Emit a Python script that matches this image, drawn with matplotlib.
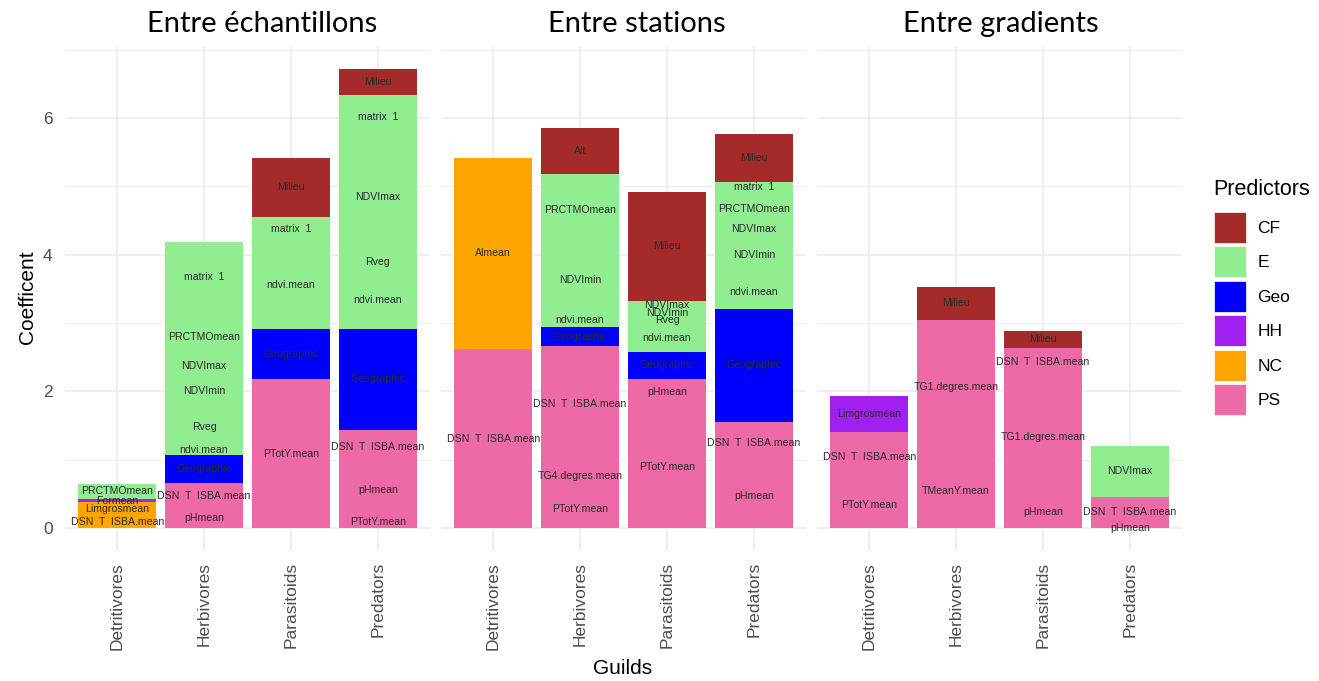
import matplotlib
matplotlib.use("Agg")
import matplotlib.pyplot as plt
import pandas as pd
from matplotlib.patches import Patch

plt.rcParams['font.family'] = ['Liberation Sans', 'DejaVu Sans']

guilds = ["Detritivores", "Herbivores", "Parasitoids", "Predators"]
panel_titles = ["Entre échantillons", "Entre stations", "Entre gradients"]
predictors = ["CF", "E", "Geo", "HH", "NC", "PS"]
pred_colors = ["#A52A2A", "#90EE90", "#0000FF", "#A020F0", "#FFA500", "#EE6AA7"]

# rows listed bottom -> top within each guild
ech_guild = ["Detritivores"] * 4 + ["Herbivores"] * 9 + ["Parasitoids"] * 5 + ["Predators"] * 9
ech_var = ["DSN  T  ISBA.mean", "Limgrosmean", "Formean", "PRCTMOmean",
           "pHmean", "DSN  T  ISBA.mean", "Geographic", "ndvi.mean", "Rveg", "NDVImin", "NDVImax", "PRCTMOmean", "matrix  1",
           "PTotY.mean", "Geographic", "ndvi.mean", "matrix  1", "Milieu",
           "PTotY.mean", "pHmean", "DSN  T  ISBA.mean", "Geographic", "ndvi.mean", "Rveg", "NDVImax", "matrix  1", "Milieu"]
ech_pred = ["NC", "NC", "HH", "E",
            "PS", "PS", "Geo", "E", "E", "E", "E", "E", "E",
            "PS", "Geo", "E", "E", "CF",
            "PS", "PS", "PS", "Geo", "E", "E", "E", "E", "CF"]
ech_coef = [0.17, 0.205, 0.045, 0.23,
            0.29, 0.37, 0.41, 0.155, 0.50, 0.575, 0.135, 0.725, 1.02,
            2.18, 0.74, 1.28, 0.36, 0.86,
            0.18, 0.74, 0.52, 1.48, 0.84, 0.26, 1.66, 0.66, 0.38]

sta_guild = ["Detritivores"] * 2 + ["Herbivores"] * 8 + ["Parasitoids"] * 8 + ["Predators"] * 9
sta_var = ["DSN  T  ISBA.mean", "Almean",
           "PTotY.mean", "TG4.degres.mean", "DSN  T  ISBA.mean", "Geographic", "ndvi.mean", "NDVImin", "PRCTMOmean", "Alt",
           "PTotY.mean", "pHmean", "Geographic", "ndvi.mean", "Rveg", "NDVImin", "NDVImax", "Milieu",
           "pHmean", "DSN  T  ISBA.mean", "Geographic", "ndvi.mean", "NDVImin", "NDVImax", "PRCTMOmean", "matrix  1", "Milieu"]
sta_pred = ["PS", "NC",
            "PS", "PS", "PS", "Geo", "E", "E", "E", "CF",
            "PS", "PS", "Geo", "E", "E", "E", "E", "CF",
            "PS", "PS", "Geo", "E", "E", "E", "E", "E", "CF"]
sta_coef = [2.62, 2.80,
            0.56, 0.40, 1.70, 0.28, 0.20, 0.98, 1.06, 0.68,
            1.80, 0.38, 0.40, 0.40, 0.12, 0.10, 0.13, 1.59,
            0.94, 0.61, 1.66, 0.49, 0.60, 0.14, 0.46, 0.17, 0.70]

gra_guild = ["Detritivores"] * 3 + ["Herbivores"] * 3 + ["Parasitoids"] * 4 + ["Predators"] * 3
gra_var = ["PTotY.mean", "DSN  T  ISBA.mean", "Limgrosmean",
           "TMeanY.mean", "TG1.degres.mean", "Milieu",
           "pHmean", "TG1.degres.mean", "DSN  T  ISBA.mean", "Milieu",
           "pHmean", "DSN  T  ISBA.mean", "NDVImax"]
gra_pred = ["PS", "PS", "HH",
            "PS", "PS", "CF",
            "PS", "PS", "PS", "CF",
            "PS", "PS", "E"]
gra_coef = [0.68, 0.73, 0.53,
            1.08, 1.97, 0.48,
            0.46, 1.76, 0.42, 0.25,
            0.0, 0.46, 0.745]

tables = [
    pd.DataFrame({"guild": ech_guild, "var": ech_var, "pred": ech_pred, "coef": ech_coef}),
    pd.DataFrame({"guild": sta_guild, "var": sta_var, "pred": sta_pred, "coef": sta_coef}),
    pd.DataFrame({"guild": gra_guild, "var": gra_var, "pred": gra_pred, "coef": gra_coef}),
]
color_of = dict(zip(predictors, pred_colors))

ymax = max(t.groupby("guild")["coef"].sum().max() for t in tables)

W, H = 1319, 681
fig = plt.figure(figsize=(W / 100, H / 100), dpi=100)
panel_left = [65, 441, 817]
panel_w = 365
top_px, bot_px = 46, 551
title_x = [262, 637, 1001]

for k, df in enumerate(tables):
    ax = fig.add_axes([panel_left[k] / W, 1 - bot_px / H, panel_w / W, (bot_px - top_px) / H])
    for i, g in enumerate(guilds):
        sub = df[df["guild"] == g]
        cum = 0.0
        for _, r in sub.iterrows():
            ax.bar(i, r["coef"], bottom=cum, width=0.9, color=color_of[r["pred"]], linewidth=0, zorder=2)
            ax.text(i, cum + r["coef"] / 2, r["var"], ha="center", va="center",
                    fontsize=7.6, color="#2A2A2A", zorder=4)
            cum += r["coef"]
    ax.set_xlim(-0.6, 3.6)
    ax.set_ylim(-0.05 * ymax, 1.05 * ymax)
    ax.set_xticks(range(len(guilds)))
    ax.set_xticklabels(guilds, rotation=90, fontsize=12.5, color="#4D4D4D")
    ax.set_yticks([0, 2, 4, 6])
    ax.set_yticks([1, 3, 5, 7], minor=True)
    ax.grid(which="major", color="#EBEBEB", linewidth=1.1, zorder=0)
    ax.grid(which="minor", axis="y", color="#EBEBEB", linewidth=0.6, zorder=0)
    ax.set_axisbelow(True)
    for s in ax.spines.values():
        s.set_visible(False)
    ax.tick_params(which="both", length=0)
    ax.tick_params(axis="x", pad=8)
    ax.tick_params(axis="y", pad=9, labelsize=12.5, labelcolor="#4D4D4D")
    if k > 0:
        ax.set_yticklabels([])
    fig.text(title_x[k] / W, 1 - 32 / H, panel_titles[k], ha="center", va="baseline",
             fontsize=21, family="Lato", color="black")

fig.text(28 / W, 1 - 297 / H, "Coefficent", rotation=90, ha="center", va="center", fontsize=15)
fig.text(623 / W, 1 - 669 / H, "Guilds", ha="center", va="center", fontsize=15)

fig.text(1213 / W, 1 - 190 / H, "Predictors", ha="left", va="center", fontsize=15.5)
handles = [Patch(facecolor=c, edgecolor="white", linewidth=0.5) for c in pred_colors]
leg = fig.legend(handles, predictors, loc="upper left", bbox_to_anchor=(1214 / W, 1 - 212 / H),
                 frameon=False, fontsize=12.5,
                 handlelength=1.85, handleheight=2.37, labelspacing=0.2, handletextpad=0.65,
                 borderpad=0, borderaxespad=0)

fig.savefig("out.png", dpi=100)
